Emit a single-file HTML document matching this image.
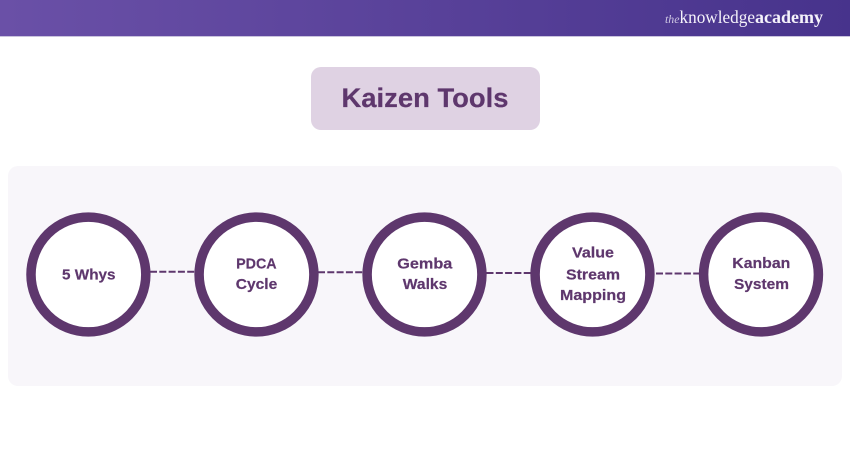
<!DOCTYPE html>
<html lang="en">
<head>
<meta charset="utf-8">
<title>Kaizen Tools</title>
<style>
html,body{margin:0;padding:0;background:#fff;width:850px;height:450px;overflow:hidden}
svg{display:block}
text{font-family:"Liberation Sans",sans-serif;font-weight:700;fill:#5e376d}
.lbl text{stroke:#5e376d;stroke-width:.2px}
</style>
</head>
<body>
<svg width="850" height="450" viewBox="0 0 850 450" xmlns="http://www.w3.org/2000/svg">
<defs>
<linearGradient id="hdr" x1="0" y1="0" x2="1" y2="0">
<stop offset="0" stop-color="#6a50a7"/>
<stop offset="1" stop-color="#47338c"/>
</linearGradient>
</defs>
<rect x="0" y="0" width="850" height="36" fill="url(#hdr)"/>
<rect x="0" y="36" width="850" height="1" fill="#c9c3dd"/>
<text x="665" y="23" font-size="12" textLength="14.500" lengthAdjust="spacingAndGlyphs" style="font-family:'Liberation Serif',serif;font-style:italic;font-weight:400;fill:#cfc8e4">the</text>
<text x="679.500" y="23" font-size="18" textLength="75.500" lengthAdjust="spacingAndGlyphs" style="font-family:'Liberation Serif',serif;font-weight:400;fill:#f4f2fa">knowledge</text>
<text x="755" y="23" font-size="18" textLength="68" lengthAdjust="spacingAndGlyphs" style="font-family:'Liberation Serif',serif;font-weight:700;fill:#f4f2fa">academy</text>

<rect x="311" y="67" width="229" height="63" rx="10" fill="#dfd2e3"/>
<g class="lbl">
<text x="425" y="107" font-size="27" text-anchor="middle" textLength="167" lengthAdjust="spacingAndGlyphs">Kaizen Tools</text>
</g>

<rect x="8" y="166" width="834" height="220" rx="10" fill="#f8f6fa"/>

<g stroke="#5e376d" stroke-width="2" stroke-dasharray="7 2.300" fill="none">
<line x1="150" y1="271.700" x2="197" y2="271.700"/>
<line x1="318" y1="272.300" x2="365" y2="272.300"/>
<line x1="486.500" y1="273" x2="533" y2="273"/>
<line x1="656" y1="273.500" x2="702" y2="273.500"/>
</g>

<g fill="#fff" stroke="#5e376d" stroke-width="9.500">
<circle cx="88.400" cy="274.500" r="57.400"/>
<circle cx="256.500" cy="274.500" r="57.400"/>
<circle cx="424.500" cy="274.500" r="57.400"/>
<circle cx="592.500" cy="274.500" r="57.400"/>
<circle cx="761" cy="274.500" r="57.400"/>
</g>

<g class="lbl" font-size="15" text-anchor="middle">
<text x="88.800" y="279.300" textLength="53.500" lengthAdjust="spacingAndGlyphs">5 Whys</text>
<text x="256.400" y="268.300" textLength="40.500" lengthAdjust="spacingAndGlyphs">PDCA</text>
<text x="256.500" y="289" textLength="41.500" lengthAdjust="spacingAndGlyphs">Cycle</text>
<text x="424.800" y="268.300" textLength="55" lengthAdjust="spacingAndGlyphs">Gemba</text>
<text x="425" y="289" textLength="44.500" lengthAdjust="spacingAndGlyphs">Walks</text>
<text x="593" y="257.700" textLength="42" lengthAdjust="spacingAndGlyphs">Value</text>
<text x="593" y="279.300" textLength="54" lengthAdjust="spacingAndGlyphs">Stream</text>
<text x="593" y="300" textLength="66" lengthAdjust="spacingAndGlyphs">Mapping</text>
<text x="761.300" y="268" textLength="58" lengthAdjust="spacingAndGlyphs">Kanban</text>
<text x="761.500" y="289" textLength="55" lengthAdjust="spacingAndGlyphs">System</text>
</g>
</svg>
</body>
</html>
